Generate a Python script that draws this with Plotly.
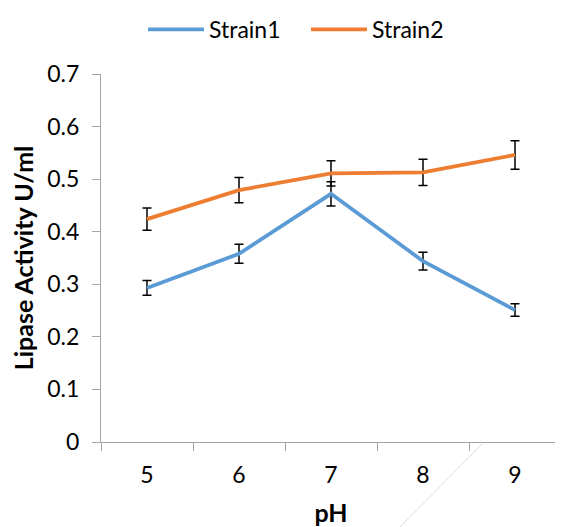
import plotly.graph_objects as go

ph = ["5", "6", "7", "8", "9"]
strain1 = [0.293, 0.358, 0.472, 0.344, 0.251]
strain1_err = [0.014, 0.018, 0.023, 0.017, 0.012]
strain2 = [0.424, 0.479, 0.511, 0.513, 0.546]
strain2_err = [0.021, 0.024, 0.024, 0.025, 0.027]
y_ticks = [0, 0.1, 0.2, 0.3, 0.4, 0.5, 0.6, 0.7]
y_tick_text = ["0", "0.1", "0.2", "0.3", "0.4", "0.5", "0.6", "0.7"]

FONT = "Lato, Open Sans, sans-serif"

fig = go.Figure()
fig.add_trace(go.Scatter(
    x=ph, y=strain1, mode="lines", name="Strain1",
    line=dict(color="#5B9BD5", width=3.75),
    error_y=dict(type="data", array=strain1_err, visible=True,
                 color="#000000", thickness=1.5, width=4.5),
))
fig.add_trace(go.Scatter(
    x=ph, y=strain2, mode="lines", name="Strain2",
    line=dict(color="#ED7D31", width=3.75),
    error_y=dict(type="data", array=strain2_err, visible=True,
                 color="#000000", thickness=1.5, width=4.5),
))

# page body has an 8px margin, so the figure is sized to fill the rest
fig.update_layout(
    width=555, height=519,
    margin=dict(l=93, r=2, t=66, b=85, autoexpand=False),
    paper_bgcolor="white", plot_bgcolor="white",
    font=dict(family=FONT, size=23, color="#000000"),
    legend=dict(orientation="h", x=42 / 460, xanchor="left",
                y=1.0, yanchor="top", yref="container",
                font=dict(size=23), itemwidth=56, entrywidth=92,
                bgcolor="rgba(0,0,0,0)"),
    showlegend=True,
)

fig.update_xaxes(
    type="category", tickson="boundaries",
    showline=True, linecolor="#A6A6A6", linewidth=1,
    ticks="outside", ticklen=8, tickcolor="#A6A6A6",
    showgrid=False, zeroline=False, automargin=False,
    tickfont=dict(size=23, family=FONT),
    ticklabelstandoff=12,
    title=dict(text="<b>pH</b>", font=dict(size=25, family=FONT), standoff=17),
    range=[-0.5, 4.5],
)
fig.update_yaxes(
    range=[0, 0.7], tickvals=y_ticks, ticktext=y_tick_text,
    showline=True, linecolor="#A6A6A6", linewidth=1,
    ticks="outside", ticklen=8, tickcolor="#A6A6A6",
    showgrid=False, zeroline=False, automargin=False,
    tickfont=dict(size=23, family=FONT),
    ticklabelstandoff=8,
    title=dict(text="<b>Lipase Activity U/ml</b>", font=dict(size=25, family=FONT), standoff=17),
)

# faint diagonal artifact line at the bottom right
fig.add_shape(type="line", xref="paper", yref="paper",
              x0=(483 - 101) / 460, y0=(442 - 443) / 368,
              x1=(400 - 101) / 460, y1=(442 - 527) / 368,
              line=dict(color="#DDDDDD", width=1))

fig.write_html("out.html")
